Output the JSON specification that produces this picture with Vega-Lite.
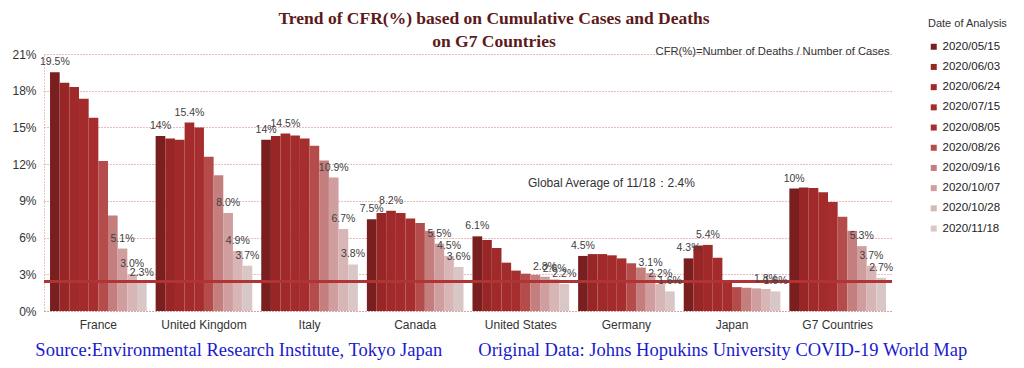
{
  "$schema": "https://vega.github.io/schema/vega-lite/v6.json",
  "width": 848,
  "height": 257,
  "autosize": {"type": "none"},
  "padding": {"left": 44, "top": 54, "right": 132, "bottom": 57},
  "background": "white",
  "title": {
    "text": ["Trend of CFR(%) based on Cumulative  Cases and Deaths", "on G7 Countries"],
    "font": "Liberation Serif",
    "fontSize": 17.5,
    "fontWeight": "bold",
    "color": "#5c1a1a",
    "anchor": "middle",
    "frame": "group",
    "dx": 26,
    "offset": -32,
    "lineHeight": 23
  },
  "config": {
    "view": {"stroke": null},
    "axis": {"labelFont": "Liberation Sans", "labelColor": "#333333", "labelFontSize": 12}
  },
  "data": {
    "values": [
      {"country": "France", "date": "2020/05/15", "cfr": 19.5, "label": "19.5%"},
      {"country": "France", "date": "2020/06/03", "cfr": 18.65},
      {"country": "France", "date": "2020/06/24", "cfr": 18.3},
      {"country": "France", "date": "2020/07/15", "cfr": 17.35},
      {"country": "France", "date": "2020/08/05", "cfr": 15.8},
      {"country": "France", "date": "2020/08/26", "cfr": 12.25},
      {"country": "France", "date": "2020/09/16", "cfr": 7.8},
      {"country": "France", "date": "2020/10/07", "cfr": 5.1, "label": "5.1%"},
      {"country": "France", "date": "2020/10/28", "cfr": 3.0, "label": "3.0%"},
      {"country": "France", "date": "2020/11/18", "cfr": 2.3, "label": "2.3%"},
      {"country": "United Kingdom", "date": "2020/05/15", "cfr": 14.3, "label": "14%"},
      {"country": "United Kingdom", "date": "2020/06/03", "cfr": 14.1},
      {"country": "United Kingdom", "date": "2020/06/24", "cfr": 14.0},
      {"country": "United Kingdom", "date": "2020/07/15", "cfr": 15.4, "label": "15.4%"},
      {"country": "United Kingdom", "date": "2020/08/05", "cfr": 15.0},
      {"country": "United Kingdom", "date": "2020/08/26", "cfr": 12.6},
      {"country": "United Kingdom", "date": "2020/09/16", "cfr": 11.1},
      {"country": "United Kingdom", "date": "2020/10/07", "cfr": 8.0, "label": "8.0%"},
      {"country": "United Kingdom", "date": "2020/10/28", "cfr": 4.9, "label": "4.9%"},
      {"country": "United Kingdom", "date": "2020/11/18", "cfr": 3.7, "label": "3.7%"},
      {"country": "Italy", "date": "2020/05/15", "cfr": 14.0, "label": "14%"},
      {"country": "Italy", "date": "2020/06/03", "cfr": 14.3},
      {"country": "Italy", "date": "2020/06/24", "cfr": 14.5, "label": "14.5%"},
      {"country": "Italy", "date": "2020/07/15", "cfr": 14.35},
      {"country": "Italy", "date": "2020/08/05", "cfr": 14.1},
      {"country": "Italy", "date": "2020/08/26", "cfr": 13.5},
      {"country": "Italy", "date": "2020/09/16", "cfr": 12.3},
      {"country": "Italy", "date": "2020/10/07", "cfr": 10.9, "label": "10.9%"},
      {"country": "Italy", "date": "2020/10/28", "cfr": 6.7, "label": "6.7%"},
      {"country": "Italy", "date": "2020/11/18", "cfr": 3.8, "label": "3.8%"},
      {"country": "Canada", "date": "2020/05/15", "cfr": 7.5, "label": "7.5%"},
      {"country": "Canada", "date": "2020/06/03", "cfr": 8.0},
      {"country": "Canada", "date": "2020/06/24", "cfr": 8.2, "label": "8.2%"},
      {"country": "Canada", "date": "2020/07/15", "cfr": 8.0},
      {"country": "Canada", "date": "2020/08/05", "cfr": 7.55},
      {"country": "Canada", "date": "2020/08/26", "cfr": 7.2},
      {"country": "Canada", "date": "2020/09/16", "cfr": 6.55},
      {"country": "Canada", "date": "2020/10/07", "cfr": 5.5, "label": "5.5%"},
      {"country": "Canada", "date": "2020/10/28", "cfr": 4.5, "label": "4.5%"},
      {"country": "Canada", "date": "2020/11/18", "cfr": 3.6, "label": "3.6%"},
      {"country": "United States", "date": "2020/05/15", "cfr": 6.1, "label": "6.1%"},
      {"country": "United States", "date": "2020/06/03", "cfr": 5.8},
      {"country": "United States", "date": "2020/06/24", "cfr": 5.15},
      {"country": "United States", "date": "2020/07/15", "cfr": 3.95},
      {"country": "United States", "date": "2020/08/05", "cfr": 3.3},
      {"country": "United States", "date": "2020/08/26", "cfr": 3.05},
      {"country": "United States", "date": "2020/09/16", "cfr": 2.95},
      {"country": "United States", "date": "2020/10/07", "cfr": 2.8, "label": "2.8%"},
      {"country": "United States", "date": "2020/10/28", "cfr": 2.6, "label": "2.6%"},
      {"country": "United States", "date": "2020/11/18", "cfr": 2.2, "label": "2.2%"},
      {"country": "Germany", "date": "2020/05/15", "cfr": 4.5, "label": "4.5%"},
      {"country": "Germany", "date": "2020/06/03", "cfr": 4.65},
      {"country": "Germany", "date": "2020/06/24", "cfr": 4.65},
      {"country": "Germany", "date": "2020/07/15", "cfr": 4.55},
      {"country": "Germany", "date": "2020/08/05", "cfr": 4.3},
      {"country": "Germany", "date": "2020/08/26", "cfr": 3.9},
      {"country": "Germany", "date": "2020/09/16", "cfr": 3.55},
      {"country": "Germany", "date": "2020/10/07", "cfr": 3.1, "label": "3.1%"},
      {"country": "Germany", "date": "2020/10/28", "cfr": 2.2, "label": "2.2%"},
      {"country": "Germany", "date": "2020/11/18", "cfr": 1.6, "label": "1.6%"},
      {"country": "Japan", "date": "2020/05/15", "cfr": 4.3, "label": "4.3%"},
      {"country": "Japan", "date": "2020/06/03", "cfr": 5.35},
      {"country": "Japan", "date": "2020/06/24", "cfr": 5.4, "label": "5.4%"},
      {"country": "Japan", "date": "2020/07/15", "cfr": 4.35},
      {"country": "Japan", "date": "2020/08/05", "cfr": 2.5},
      {"country": "Japan", "date": "2020/08/26", "cfr": 1.95},
      {"country": "Japan", "date": "2020/09/16", "cfr": 1.9},
      {"country": "Japan", "date": "2020/10/07", "cfr": 1.85},
      {"country": "Japan", "date": "2020/10/28", "cfr": 1.8, "label": "1.8%"},
      {"country": "Japan", "date": "2020/11/18", "cfr": 1.6, "label": "1.6%"},
      {"country": "G7 Countries", "date": "2020/05/15", "cfr": 10.0, "label": "10%"},
      {"country": "G7 Countries", "date": "2020/06/03", "cfr": 10.1},
      {"country": "G7 Countries", "date": "2020/06/24", "cfr": 10.05},
      {"country": "G7 Countries", "date": "2020/07/15", "cfr": 9.7},
      {"country": "G7 Countries", "date": "2020/08/05", "cfr": 8.9},
      {"country": "G7 Countries", "date": "2020/08/26", "cfr": 7.7},
      {"country": "G7 Countries", "date": "2020/09/16", "cfr": 6.55},
      {"country": "G7 Countries", "date": "2020/10/07", "cfr": 5.3, "label": "5.3%"},
      {"country": "G7 Countries", "date": "2020/10/28", "cfr": 3.7, "label": "3.7%"},
      {"country": "G7 Countries", "date": "2020/11/18", "cfr": 2.7, "label": "2.7%"}
    ]
  },
  "layer": [
    {
      "mark": {"type": "bar"},
      "encoding": {
        "x": {
          "field": "country", "type": "nominal",
          "sort": ["France", "United Kingdom", "Italy", "Canada", "United States", "Germany", "Japan", "G7 Countries"],
          "scale": {"paddingInner": 0.085, "paddingOuter": 0.057},
          "axis": {"title": null, "labelAngle": 0, "ticks": false, "labelPadding": 8, "domainColor": "#d08a8a", "domainDash": [1, 2], "domainWidth": 1}
        },
        "xOffset": {"field": "date", "type": "ordinal", "scale": {"paddingInner": 0, "paddingOuter": 0}},
        "y": {
          "field": "cfr", "type": "quantitative",
          "scale": {"domain": [0, 21], "nice": false},
          "axis": {"title": null, "values": [0, 3, 6, 9, 12, 15, 18, 21], "labelExpr": "datum.value + '%'", "ticks": false, "labelPadding": 8, "domain": true, "domainColor": "#d08a8a", "domainDash": [1, 2], "gridColor": "#c86a6a", "gridDash": [1, 2], "gridWidth": 1, "gridOpacity": 0.9}
        },
        "color": {
          "field": "date", "type": "ordinal",
          "scale": {
            "domain": ["2020/05/15", "2020/06/03", "2020/06/24", "2020/07/15", "2020/08/05", "2020/08/26", "2020/09/16", "2020/10/07", "2020/10/28", "2020/11/18"],
            "range": ["#7a1f1f", "#982626", "#a02929", "#a32b2b", "#a62e2e", "#b44c4c", "#c47e7e", "#d09e9e", "#d9b6b6", "#d9c7c7"]
          },
          "legend": {
            "title": "Date of Analysis",
            "orient": "none",
            "legendX": 884,
            "legendY": -36,
            "padding": 0,
            "titleFont": "Liberation Sans",
            "titleFontSize": 11,
            "titleFontWeight": "normal",
            "titleColor": "#333333",
            "titlePadding": 12,
            "labelFont": "Liberation Sans",
            "labelFontSize": 11.5,
            "labelColor": "#222222",
            "labelOffset": 3,
            "symbolType": "square",
            "symbolSize": 36,
            "symbolStrokeWidth": 0,
            "rowPadding": 7.2
          }
        }
      }
    },
    {
      "mark": {"type": "rule", "color": "#b03535", "strokeWidth": 2.2},
      "encoding": {
        "y": {"datum": 2.4, "type": "quantitative",
          "axis": {"title": null, "values": [0, 3, 6, 9, 12, 15, 18, 21], "labelExpr": "datum.value + '%'", "ticks": false, "labelPadding": 8, "domain": true, "domainColor": "#d08a8a", "domainDash": [1, 2], "gridColor": "#c86a6a", "gridDash": [1, 2], "gridWidth": 1, "gridOpacity": 0.9}}
      }
    },
    {
      "transform": [{"filter": "datum.label != null"}],
      "mark": {"type": "text", "font": "Liberation Sans", "fontSize": 10.5, "color": "#404040", "baseline": "middle", "dy": -10},
      "encoding": {
        "x": {"field": "country", "type": "nominal", "sort": ["France", "United Kingdom", "Italy", "Canada", "United States", "Germany", "Japan", "G7 Countries"]},
        "xOffset": {"field": "date", "type": "ordinal"},
        "y": {
          "field": "cfr", "type": "quantitative",
          "axis": {"title": null, "values": [0, 3, 6, 9, 12, 15, 18, 21], "labelExpr": "datum.value + '%'", "ticks": false, "labelPadding": 8, "domain": true, "domainColor": "#d08a8a", "domainDash": [1, 2], "gridColor": "#c86a6a", "gridDash": [1, 2], "gridWidth": 1, "gridOpacity": 0.9}
        },
        "text": {"field": "label"}
      }
    },
    {
      "data": {"values": [{}]},
      "mark": {"type": "text", "text": "Global Average of 11/18：2.4%", "font": "Liberation Sans", "fontSize": 12, "color": "#333333", "align": "center", "baseline": "middle", "dx": -15},
      "encoding": {
        "x": {"datum": "Germany"},
        "y": {"datum": 10.46, "type": "quantitative",
          "axis": {"title": null, "values": [0, 3, 6, 9, 12, 15, 18, 21], "labelExpr": "datum.value + '%'", "ticks": false, "labelPadding": 8, "domain": true, "domainColor": "#d08a8a", "domainDash": [1, 2], "gridColor": "#c86a6a", "gridDash": [1, 2], "gridWidth": 1, "gridOpacity": 0.9}}
      }
    },
    {
      "data": {"values": [{}]},
      "mark": {"type": "text", "text": "CFR(%)=Number of  Deaths / Number of Cases", "font": "Liberation Sans", "fontSize": 11.2, "color": "#333333", "align": "right", "baseline": "middle", "dx": 52},
      "encoding": {
        "x": {"datum": "G7 Countries"},
        "y": {"datum": 21.2, "type": "quantitative",
          "axis": {"title": null, "values": [0, 3, 6, 9, 12, 15, 18, 21], "labelExpr": "datum.value + '%'", "ticks": false, "labelPadding": 8, "domain": true, "domainColor": "#d08a8a", "domainDash": [1, 2], "gridColor": "#c86a6a", "gridDash": [1, 2], "gridWidth": 1, "gridOpacity": 0.9}}
      }
    },
    {
      "data": {"values": [{}]},
      "mark": {"type": "text", "text": "Source:Environmental Research Institute, Tokyo Japan", "font": "Liberation Serif", "fontSize": 18.5, "color": "#1a1acc", "align": "left", "baseline": "middle", "dx": -63},
      "encoding": {
        "x": {"datum": "France"},
        "y": {"datum": -3.2, "type": "quantitative",
          "axis": {"title": null, "values": [0, 3, 6, 9, 12, 15, 18, 21], "labelExpr": "datum.value + '%'", "ticks": false, "labelPadding": 8, "domain": true, "domainColor": "#d08a8a", "domainDash": [1, 2], "gridColor": "#c86a6a", "gridDash": [1, 2], "gridWidth": 1, "gridOpacity": 0.9}}
      }
    },
    {
      "data": {"values": [{}]},
      "mark": {"type": "text", "text": "Original Data: Johns Hopukins University COVID-19 World Map", "font": "Liberation Serif", "fontSize": 18.5, "color": "#1a1acc", "align": "left", "baseline": "middle", "dx": 380},
      "encoding": {
        "x": {"datum": "France"},
        "y": {"datum": -3.2, "type": "quantitative",
          "axis": {"title": null, "values": [0, 3, 6, 9, 12, 15, 18, 21], "labelExpr": "datum.value + '%'", "ticks": false, "labelPadding": 8, "domain": true, "domainColor": "#d08a8a", "domainDash": [1, 2], "gridColor": "#c86a6a", "gridDash": [1, 2], "gridWidth": 1, "gridOpacity": 0.9}}
      }
    }
  ]
}
